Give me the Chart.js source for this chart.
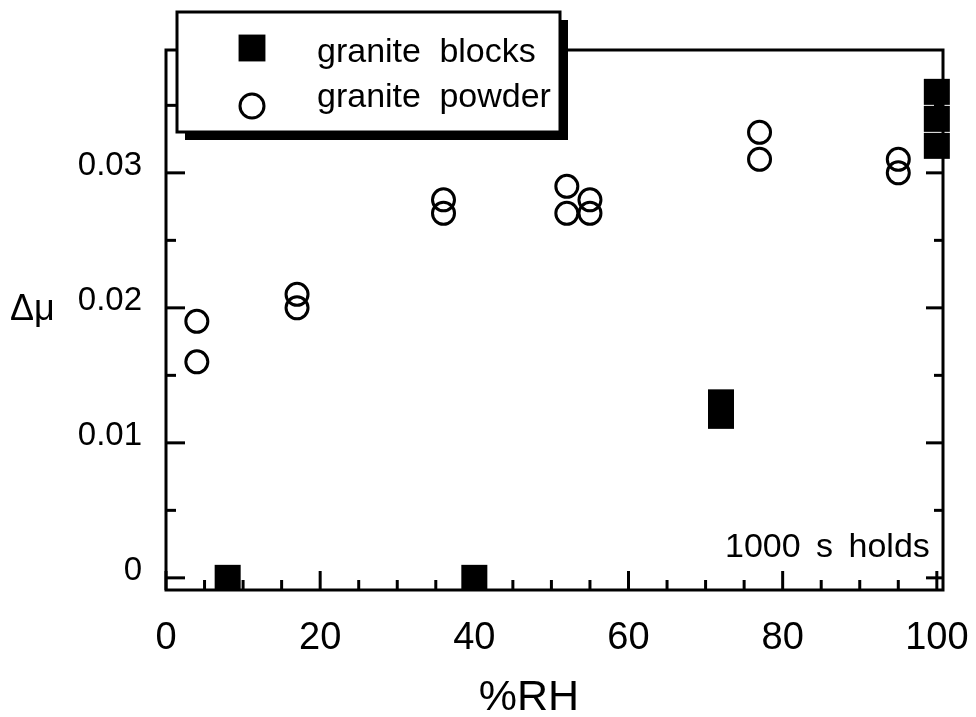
<!DOCTYPE html>
<html>
<head>
<meta charset="utf-8">
<script src="https://cdn.jsdelivr.net/npm/chart.js@4/dist/chart.umd.min.js"></script>
<style>
  html, body { margin: 0; padding: 0; background: #fff; }
  canvas { display: block; }
</style>
</head>
<body>
<canvas id="rhChart" width="976" height="717"></canvas>
<script>
// ============= Data =============
const blockRH = [8, 40, 72, 72, 100, 100, 100];
const blockDmu = [0, 0, 0.013, 0.012, 0.036, 0.034, 0.032];

const powderRH = [4, 4, 17, 17, 36, 36, 52, 52, 55, 55, 77, 77, 95, 95];
const powderDmu = [0.019, 0.016, 0.021, 0.020, 0.028, 0.027, 0.029, 0.027, 0.028, 0.027, 0.033, 0.031, 0.031, 0.030];

const xMajor = [0, 20, 40, 60, 80, 100];
const xMinor = [5, 10, 15, 25, 30, 35, 45, 50, 55, 65, 70, 75, 85, 90, 95];
const yMajor = [0, 0.01, 0.02, 0.03];
const yMinor = [0.005, 0.015, 0.025, 0.035];

const noteText = "1000 s holds";
const xTitle = "%RH";
const yTitle = "Δμ";

const FONT = "'Liberation Sans', Arial, Helvetica, sans-serif";

const toPoints = (xs, ys) => xs.map((x, i) => ({ x, y: ys[i] }));

// frame + inward ticks (bottom, left, right)
const framePlugin = {
  id: "frame",
  beforeDatasetsDraw(chart) {
    const { ctx, chartArea: a, scales } = chart;
    ctx.save();
    ctx.strokeStyle = "#000";
    ctx.lineWidth = 3;
    ctx.strokeRect(a.left, a.top, a.right - a.left, a.bottom - a.top);

    const line = (x1, y1, x2, y2) => {
      ctx.beginPath();
      ctx.moveTo(x1, y1);
      ctx.lineTo(x2, y2);
      ctx.stroke();
    };
    xMajor.forEach((v) => {
      const px = scales.x.getPixelForValue(v);
      line(px, a.bottom, px, a.bottom - 19);
    });
    xMinor.forEach((v) => {
      const px = scales.x.getPixelForValue(v);
      line(px, a.bottom, px, a.bottom - 10);
    });
    yMajor.forEach((v) => {
      const py = scales.y.getPixelForValue(v);
      line(a.left, py, a.left + 19, py);
      line(a.right, py, a.right - 17, py);
    });
    yMinor.forEach((v) => {
      const py = scales.y.getPixelForValue(v);
      line(a.left, py, a.left + 10, py);
      line(a.right, py, a.right - 9, py);
    });

    // axis titles and note
    ctx.fillStyle = "#000";
    ctx.textBaseline = "alphabetic";
    ctx.textAlign = "center";
    ctx.font = `43px ${FONT}`;
    ctx.fillText(xTitle, 529, 710);
    ctx.textAlign = "left";
    ctx.font = `36px ${FONT}`;
    ctx.fillText(yTitle, 10, 320);
    ctx.font = `34px ${FONT}`;
    ctx.wordSpacing = "6px";
    ctx.fillText(noteText, 725, 557);
    ctx.restore();
  },
};

// boxed legend with drop shadow
const legendPlugin = {
  id: "boxLegend",
  afterDraw(chart) {
    const { ctx } = chart;
    const bx = 177, by = 12, bw = 383, bh = 120, sh = 8;
    ctx.save();
    ctx.fillStyle = "#000";
    ctx.fillRect(bx + sh, by + sh, bw, bh);
    ctx.fillStyle = "#fff";
    ctx.fillRect(bx, by, bw, bh);
    ctx.strokeStyle = "#000";
    ctx.lineWidth = 3;
    ctx.strokeRect(bx, by, bw, bh);

    const rows = [
      { cy: 48, base: 62 },
      { cy: 106, base: 107 },
    ];
    chart.data.datasets.forEach((ds, i) => {
      ctx.fillStyle = ds.backgroundColor;
      ctx.strokeStyle = ds.borderColor;
      ctx.lineWidth = ds.borderWidth;
      Chart.helpers.drawPoint(
        ctx,
        { pointStyle: ds.pointStyle, radius: ds.legendRadius, rotation: 0, borderWidth: ds.borderWidth },
        252,
        rows[i].cy
      );
      ctx.fillStyle = "#000";
      ctx.font = `34px ${FONT}`;
      ctx.wordSpacing = "9px";
      ctx.textAlign = "left";
      ctx.textBaseline = "alphabetic";
      ctx.fillText(ds.label, 317, rows[i].base);
    });
    ctx.restore();
  },
};

new Chart(document.getElementById("rhChart"), {
  type: "scatter",
  data: {
    datasets: [
      {
        label: "granite blocks",
        data: toPoints(blockRH, blockDmu),
        pointStyle: "rect",
        pointRadius: 18.4,
        pointHoverRadius: 18.4,
        legendRadius: 19,
        backgroundColor: "#000",
        borderColor: "#000",
        borderWidth: 0,
        clip: false,
      },
      {
        label: "granite powder",
        data: toPoints(powderRH, powderDmu),
        pointStyle: "circle",
        pointRadius: 11,
        pointHoverRadius: 11,
        legendRadius: 12,
        backgroundColor: "rgba(0,0,0,0)",
        borderColor: "#000",
        borderWidth: 3,
        clip: false,
      },
    ],
  },
  options: {
    responsive: false,
    animation: false,
    events: [],
    layout: { padding: { left: 0, top: 50, right: 33, bottom: 0 } },
    plugins: { legend: { display: false }, tooltip: { enabled: false } },
    scales: {
      x: {
        type: "linear",
        min: 0,
        max: 100.8,
        grid: { display: false, drawTicks: false },
        border: { display: false },
        afterFit: (s) => {
          s.height = 127;
          s.paddingLeft = 0;
          s.paddingRight = 0;
        },
        afterBuildTicks: (s) => { s.ticks = xMajor.map((v) => ({ value: v })); },
        ticks: {
          color: "#000",
          padding: 26,
          maxRotation: 0,
          autoSkip: false,
          font: { family: FONT, size: 38 },
          callback: (v) => String(v),
        },
      },
      y: {
        type: "linear",
        min: -0.0009,
        max: 0.0391,
        grid: { display: false, drawTicks: false },
        border: { display: false },
        afterFit: (s) => {
          s.width = 166;
          s.paddingTop = 0;
          s.paddingBottom = 0;
        },
        afterBuildTicks: (s) => { s.ticks = yMajor.map((v) => ({ value: v })); },
        ticks: {
          color: "#000",
          padding: 24,
          labelOffset: -7,
          autoSkip: false,
          font: { family: FONT, size: 33 },
          callback: (v) => (v === 0 ? "0" : v.toFixed(2)),
        },
      },
    },
  },
  plugins: [framePlugin, legendPlugin],
});
</script>
</body>
</html>
